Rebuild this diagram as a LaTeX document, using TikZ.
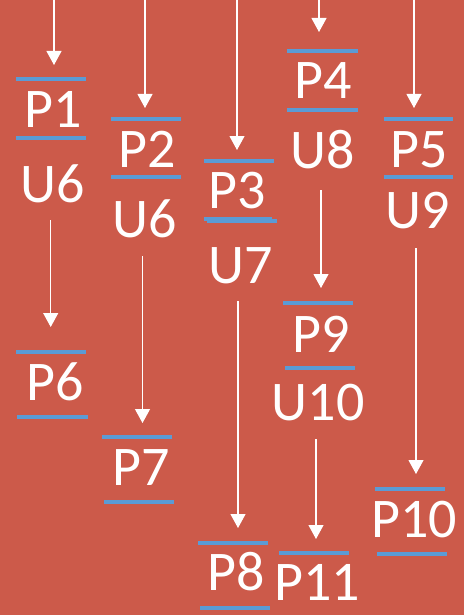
\documentclass[tikz,border=0pt]{standalone}
\usepackage{fontspec}
\setmainfont{Carlito}
\usetikzlibrary{arrows.meta}
\definecolor{bg}{HTML}{CC5A4A}
\definecolor{bl}{HTML}{5B9BD5}
\tikzset{
  lbl/.style={text=white, anchor=base, inner sep=0pt, font=\fontsize{56}{60}\selectfont},
  bar/.style={draw=bl, line width=3.4pt},
  arr/.style={draw=white, line width=1.1pt, -{Triangle[length=14pt,width=15pt]}}
}
\begin{document}
\begin{tikzpicture}[x=1pt,y=-1pt]
\fill[bg] (0,0) rectangle (464,615);
\useasboundingbox (0,0) rectangle (464,615);
% labels
\node[lbl] (P1) at (53.5,128) {P1};
\node[lbl] (U6a) at (53,202) {U6};
\node[lbl] (P2) at (147,167) {P2};
\node[lbl] (U6b) at (145,237) {U6};
\node[lbl] (P3) at (237,208) {P3};
\node[lbl] (U7) at (241,283) {U7};
\node[lbl] (P4) at (323,99) {P4};
\node[lbl] (U8) at (323,168) {U8};
\node[lbl] (P5) at (419,167) {P5};
\node[lbl] (U9) at (418,228) {U9};
\node[lbl] (P6) at (55,400) {P6};
\node[lbl] (P7) at (141,485) {P7};
\node[lbl] (P8) at (236,590) {P8};
\node[lbl] (P9) at (321.5,352) {P9};
\node[lbl] (U10) at (318,420) {U10};
\node[lbl] (P10) at (414,537) {P10};
\node[lbl] (P11) at (317,600) {P11};
% bars
\draw[bar] (16,79) -- (86,79);  \draw[bar] (16,138) -- (86,138);
\draw[bar] (111,119) -- (181,119); \draw[bar] (111,177) -- (181,177);
\draw[bar] (204,161) -- (274,161); \draw[bar] (204,219) -- (272,219); \draw[bar] (207,221) -- (277,221);
\draw[bar] (287,51) -- (358,51); \draw[bar] (287,110) -- (358,110);
\draw[bar] (384,119) -- (453,119); \draw[bar] (384,177) -- (453,177);
\draw[bar] (16,352) -- (86,352); \draw[bar] (17,417) -- (88,417);
\draw[bar] (102,437) -- (172,437); \draw[bar] (104,502) -- (174,502);
\draw[bar] (198,543) -- (268,543); \draw[bar] (200,608) -- (270,608);
\draw[bar] (283,303) -- (353,303); \draw[bar] (285,368) -- (355,368);
\draw[bar] (375,489) -- (445,489); \draw[bar] (377,554) -- (447,554);
\draw[bar] (279,553) -- (349,553);
% arrow endpoints
\coordinate (s1) at (54,0);    \coordinate (t1) at (54,65);
\coordinate (s2) at (145,0);   \coordinate (t2) at (145,108);
\coordinate (s3) at (237,0);   \coordinate (t3) at (237,150);
\coordinate (s4) at (319,0);   \coordinate (t4) at (319,32);
\coordinate (s5) at (414,0);   \coordinate (t5) at (414,108);
\coordinate (s6) at (50.7,220);  \coordinate (t6) at (50.7,327);
\coordinate (s7) at (142.5,256); \coordinate (t7) at (142.5,423);
\coordinate (s8) at (238,301);   \coordinate (t8) at (238,528);
\coordinate (s9) at (321,190);   \coordinate (t9) at (321,288);
\coordinate (s10) at (416,248);  \coordinate (t10) at (416,474);
\coordinate (s11) at (316,439);  \coordinate (t11) at (316,539);
\foreach \i in {1,...,11} { \draw[arr] (s\i) -- (t\i); }
\end{tikzpicture}
\end{document}
